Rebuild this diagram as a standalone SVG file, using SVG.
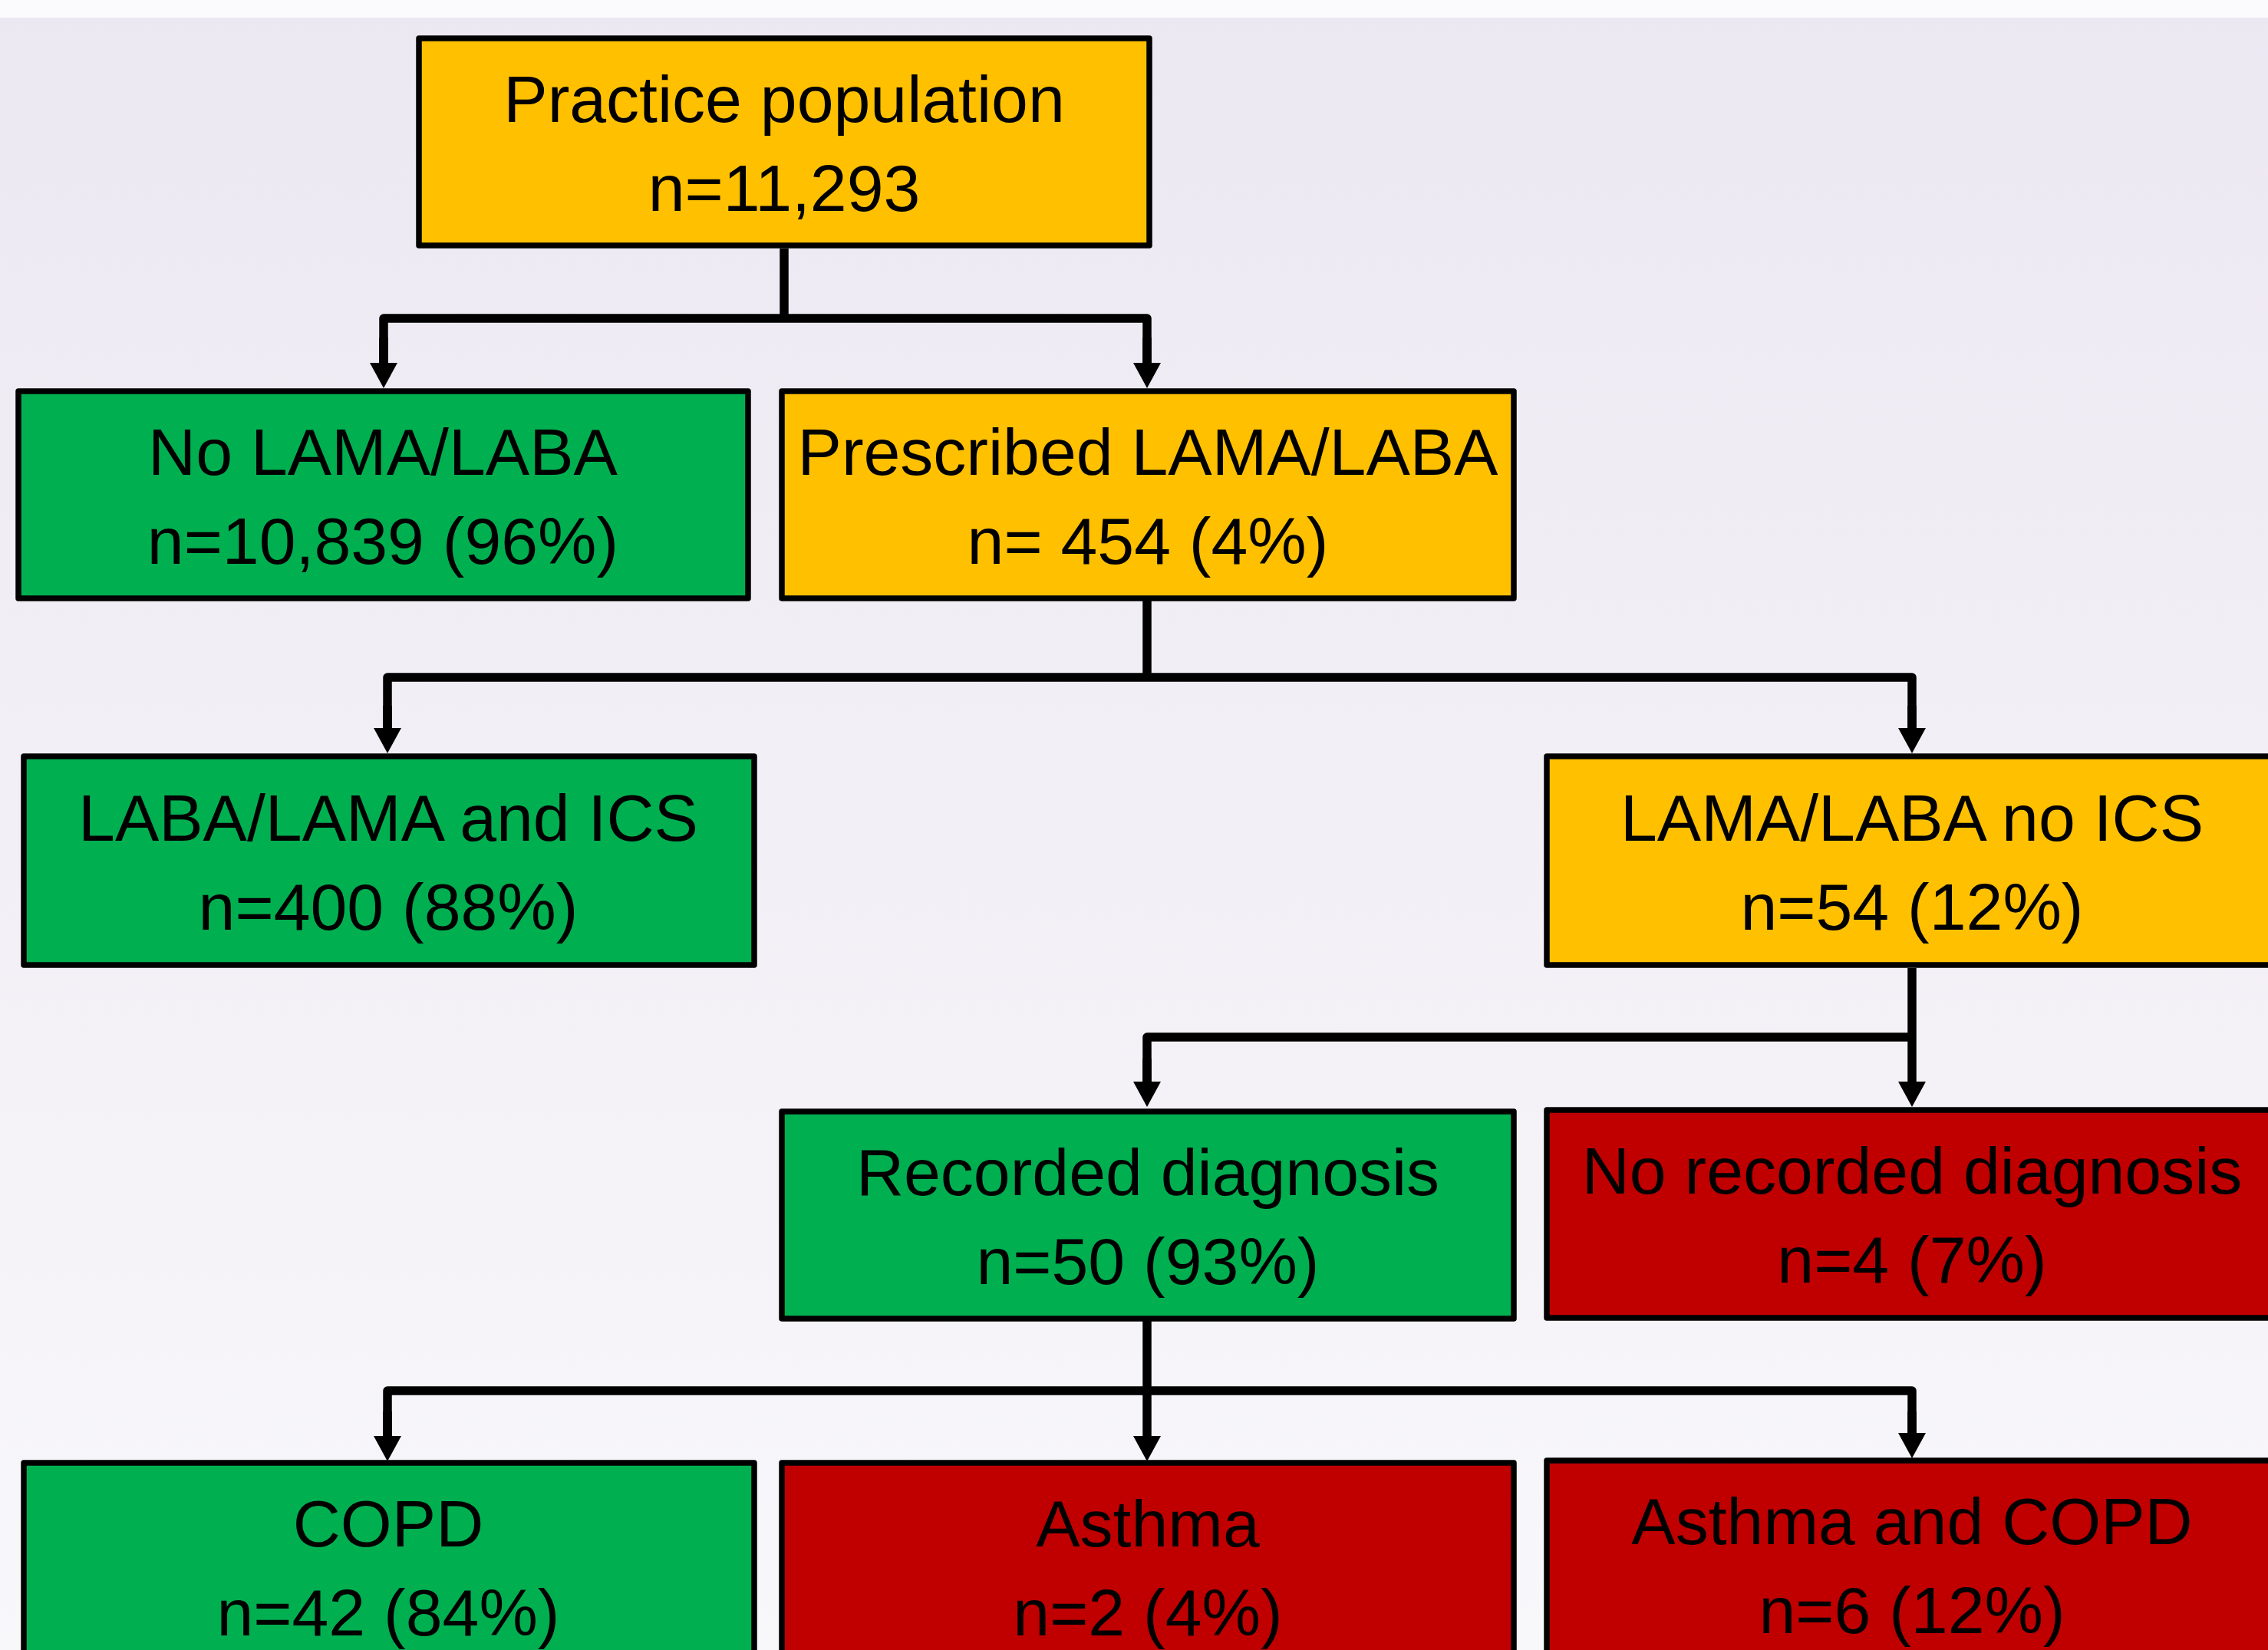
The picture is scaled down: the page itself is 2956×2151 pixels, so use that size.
<svg xmlns="http://www.w3.org/2000/svg" width="2956" height="2151" viewBox="0 0 2956 2151">
  <defs>
    <linearGradient id="bg" x1="0" y1="0" x2="0" y2="1">
      <stop offset="0" stop-color="#ECE8F2"/>
      <stop offset="1" stop-color="#F8F7FA"/>
    </linearGradient>
    <marker id="arr" viewBox="0 0 33 36" refX="0" refY="18" markerWidth="33" markerHeight="36" markerUnits="userSpaceOnUse" orient="auto">
      <path d="M0,0 L33,18 L0,36 z" fill="#000"/>
    </marker>
    <style>
      .box { stroke: #000; stroke-width: 7.5; stroke-linejoin: round; }
      .orange { fill: #FFC000; }
      .green { fill: #00B050; }
      .red { fill: #C00000; }
      .t { font-family: "Liberation Sans", Arial, sans-serif; font-size: 86px; fill: #000; text-anchor: middle; }
      .ln { fill: none; stroke: #000; stroke-width: 11.5; stroke-linejoin: round; }
      .ar { marker-end: url(#arr); }
    </style>
  </defs>

  <rect x="0" y="0" width="2956" height="2151" fill="#FBFBFD"/>
  <rect x="0" y="23" width="2956" height="2128" fill="url(#bg)"/>

  <g id="connectors">
    <path class="ln" d="M1022,324 V415"/>
    <path class="ln" d="M500,473 V415 H1495 V473"/>
    <path class="ln ar" d="M500,440 V473"/>
    <path class="ln ar" d="M1495,440 V473"/>

    <path class="ln" d="M1495,783 V883"/>
    <path class="ln" d="M505,949 V883 H2492 V949"/>
    <path class="ln ar" d="M505,920 V949"/>
    <path class="ln ar" d="M2492,920 V949"/>

    <path class="ln ar" d="M2492,1262 V1410"/>
    <path class="ln" d="M2492,1352 H1495 V1410"/>
    <path class="ln ar" d="M1495,1380 V1410"/>

    <path class="ln" d="M1495,1722 V1813"/>
    <path class="ln" d="M505,1872 V1813 H2492 V1868"/>
    <path class="ln ar" d="M505,1840 V1872"/>
    <path class="ln ar" d="M1495,1813 V1872"/>
    <path class="ln ar" d="M2492,1840 V1868"/>
  </g>

  <g id="practice-population">
    <rect class="box orange" x="546" y="50" width="952" height="270"/>
    <text class="t" x="1022" y="159">Practice population</text>
    <text class="t" x="1022" y="275">n=11,293</text>
  </g>

  <g id="no-lama-laba">
    <rect class="box green" x="24" y="510" width="951" height="270"/>
    <text class="t" x="499" y="619">No LAMA/LABA</text>
    <text class="t" x="499" y="735">n=10,839 (96%)</text>
  </g>

  <g id="prescribed-lama-laba">
    <rect class="box orange" x="1019" y="510" width="954" height="270"/>
    <text class="t" x="1496" y="619">Prescribed LAMA/LABA</text>
    <text class="t" x="1496" y="735">n= 454 (4%)</text>
  </g>

  <g id="laba-lama-and-ics">
    <rect class="box green" x="31" y="986" width="952" height="272"/>
    <text class="t" x="506" y="1096">LABA/LAMA and ICS</text>
    <text class="t" x="506" y="1212">n=400 (88%)</text>
  </g>

  <g id="lama-laba-no-ics">
    <rect class="box orange" x="2016" y="986" width="954" height="272"/>
    <text class="t" x="2492" y="1096">LAMA/LABA no ICS</text>
    <text class="t" x="2492" y="1212">n=54 (12%)</text>
  </g>

  <g id="recorded-diagnosis">
    <rect class="box green" x="1019" y="1449" width="954" height="270"/>
    <text class="t" x="1496" y="1558">Recorded diagnosis</text>
    <text class="t" x="1496" y="1674">n=50 (93%)</text>
  </g>

  <g id="no-recorded-diagnosis">
    <rect class="box red" x="2016" y="1447" width="954" height="271"/>
    <text class="t" x="2492" y="1556">No recorded diagnosis</text>
    <text class="t" x="2492" y="1672">n=4 (7%)</text>
  </g>

  <g id="copd">
    <rect class="box green" x="31" y="1907" width="952" height="272"/>
    <text class="t" x="506" y="2016">COPD</text>
    <text class="t" x="506" y="2132">n=42 (84%)</text>
  </g>

  <g id="asthma">
    <rect class="box red" x="1019" y="1907" width="954" height="272"/>
    <text class="t" x="1496" y="2016">Asthma</text>
    <text class="t" x="1496" y="2132">n=2 (4%)</text>
  </g>

  <g id="asthma-and-copd">
    <rect class="box red" x="2016" y="1904" width="954" height="272"/>
    <text class="t" x="2492" y="2013">Asthma and COPD</text>
    <text class="t" x="2492" y="2129">n=6 (12%)</text>
  </g>
</svg>
